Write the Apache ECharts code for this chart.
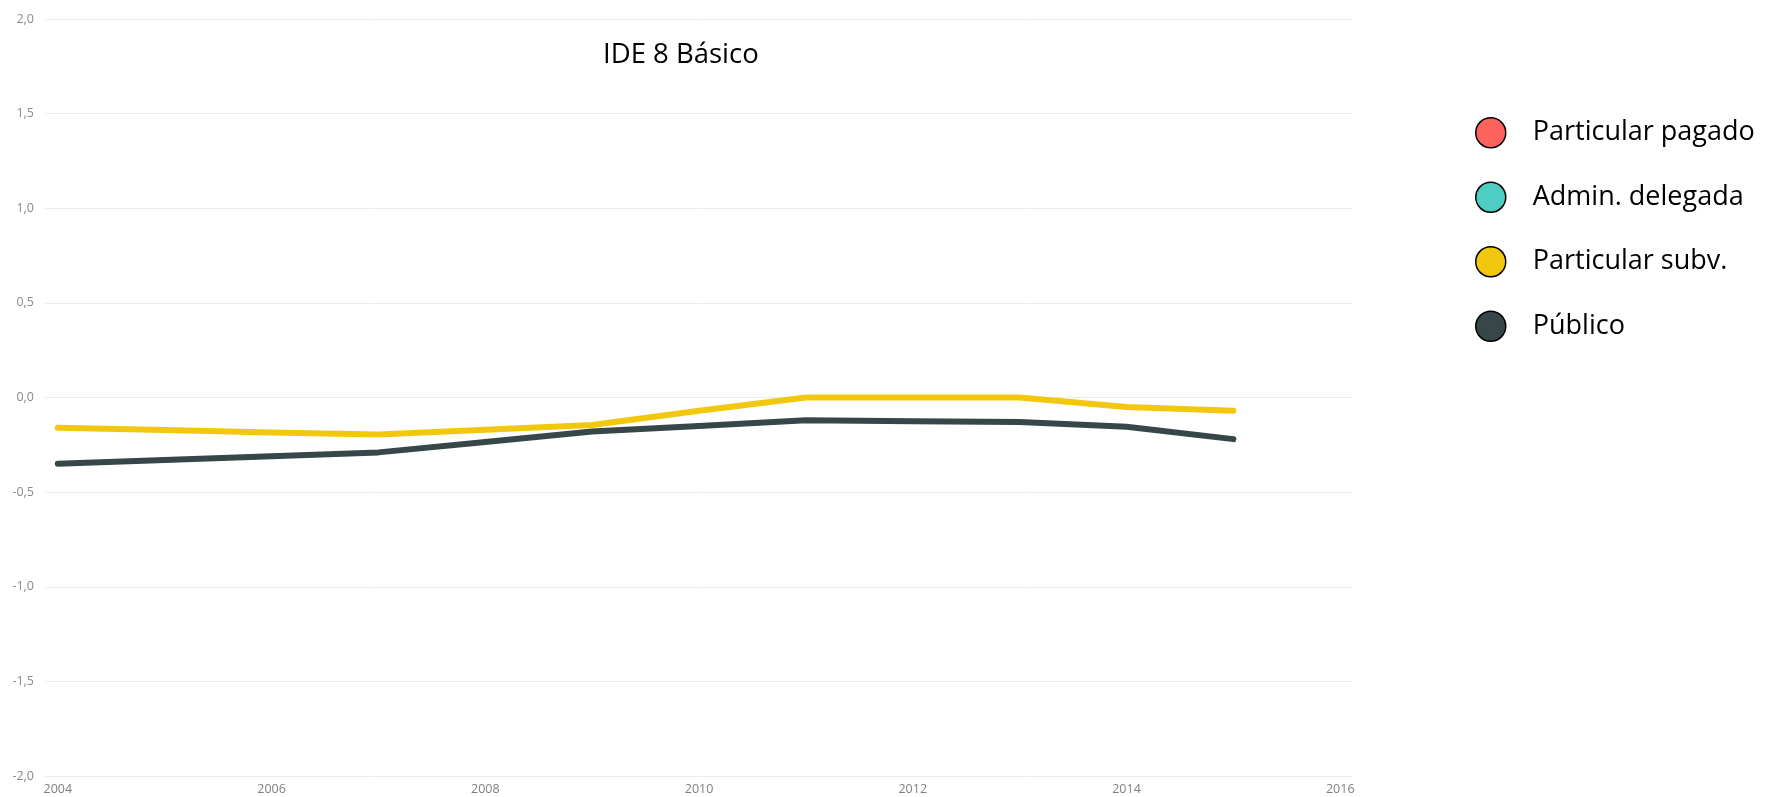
<!DOCTYPE html>
<html lang="es">
<head>
    <meta charset="UTF-8">
    <script src="https://cdn.jsdelivr.net/npm/echarts@6/dist/echarts.min.js"></script>
    <title>IDE 8 Básico</title>
</head>
<body style="margin:0;background:#fff">
    <div id="chart" style="width:1768px;height:797px;"></div>
    <script>
        // datos
        var years = [2004, 2005, 2006, 2007, 2008, 2009, 2010, 2011, 2012, 2013, 2014, 2015];
        var partSubv = [-0.16, -0.172, -0.185, -0.195, -0.17, -0.145, -0.07, 0.0, 0.0, 0.0, -0.05, -0.07];
        var publico = [-0.35, -0.33, -0.31, -0.29, -0.235, -0.18, -0.15, -0.12, -0.125, -0.13, -0.155, -0.22];
        var xTicks = [2004, 2006, 2008, 2010, 2012, 2014, 2016];
        var names = ['Particular pagado', 'Admin. delegada', 'Particular subv.', 'Público'];
        var colors = ['#FD625E', '#4ECDC4', '#F2C80F', '#374649'];

        function pairs(vals) {
            return years.map(function (y, i) { return [y, vals[i]]; });
        }

        var chart = echarts.init(document.getElementById('chart'));
        chart.setOption({
            animation: false,
            color: colors,
            title: {
                text: 'IDE 8 Básico',
                left: 598,
                top: 36,
                textStyle: { fontFamily: 'Open Sans', fontSize: 27.5, fontWeight: 'normal', color: '#000' }
            },
            legend: {
                orient: 'vertical',
                left: 1470,
                top: 112,
                icon: 'circle',
                itemWidth: 30,
                itemHeight: 30,
                itemGap: 33,
                data: names,
                itemStyle: { borderColor: '#000', borderWidth: 1.5 },
                textStyle: { fontFamily: 'Open Sans', fontSize: 27, color: '#000', padding: [0, 0, 0, 22] }
            },
            grid: { left: 45, right: 416, top: 19, bottom: 21 },
            xAxis: {
                type: 'value',
                min: 2003.88,
                max: 2016.11,
                axisLine: { show: false },
                axisTick: { show: false },
                splitLine: { show: false },
                axisLabel: {
                    customValues: xTicks,
                    formatter: function (v) { return String(v); },
                    color: '#808080',
                    fontFamily: 'Open Sans',
                    fontSize: 12.5,
                    margin: 7
                }
            },
            yAxis: {
                type: 'value',
                min: -2,
                max: 2,
                interval: 0.5,
                axisLine: { show: false },
                axisTick: { show: false },
                splitLine: { lineStyle: { color: '#ebebeb', width: 1 } },
                axisLabel: {
                    formatter: function (v) { return v.toFixed(1).replace('.', ','); },
                    color: '#8a8a8a',
                    fontFamily: 'Open Sans',
                    fontSize: 12.5,
                    margin: 11
                }
            },
            series: [
                { name: names[0], type: 'line', data: [] },
                { name: names[1], type: 'line', data: [] },
                {
                    name: names[2], type: 'line', data: pairs(partSubv),
                    showSymbol: false, lineStyle: { width: 6, cap: 'round', join: 'round' }
                },
                {
                    name: names[3], type: 'line', data: pairs(publico),
                    showSymbol: false, lineStyle: { width: 6, cap: 'round', join: 'round' }
                }
            ]
        });
    </script>
</body>
</html>
